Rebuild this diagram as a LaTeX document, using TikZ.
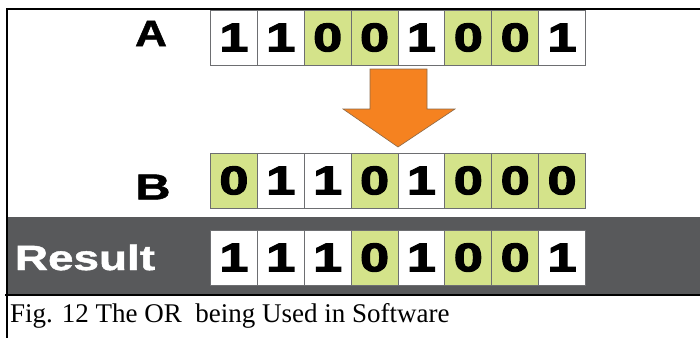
\documentclass[tikz,border=0pt]{standalone}
\usepackage{fontspec}
\usepackage{graphicx}
\setmainfont{Liberation Serif}
\newfontfamily\labelsans{Liberation Sans}[BoldFeatures={FakeBold=1.2}]
\newfontfamily\digitsans{Liberation Sans}[BoldFeatures={FakeBold=2.6}]
\definecolor{cellgreen}{HTML}{D4E38A}
\definecolor{bandgray}{HTML}{58595B}
\definecolor{arroworange}{HTML}{F58220}
\definecolor{arrowedge}{HTML}{8A6A4A}
\definecolor{celledge}{HTML}{6D6E71}
% horizontally widened heavy lettering
\newcommand\widetext[2]{\scalebox{#1}[1]{#2}}
\begin{document}
\begin{tikzpicture}[x=1pt, y=-1pt,
  bit/.style={draw=celledge, line width=1pt, minimum width=46.9pt,
    minimum height=55pt, inner sep=0pt, anchor=north west,
    font=\digitsans\bfseries\fontsize{40}{40}\selectfont},
  bit0/.style={bit, fill=cellgreen},
  bit1/.style={bit, fill=white},
  rowlabel/.style={inner sep=0pt, font=\labelsans\bfseries\fontsize{37}{37}\selectfont},
  frameline/.style={line width=2pt, black}]
\useasboundingbox (0,0) rectangle (700,338);

% frame and the dark result band
\fill[bandgray] (7,217) rectangle (700,294);
\draw[frameline] (700,9) -- (7,9) -- (7,338);
\draw[line width=2.5pt] (5,295) -- (700,295);

% operand A
\node[rowlabel] (labA) at (151,33.5) {\widetext{1.2}{A}};
\foreach \v [count=\i from 0] in {1,1,0,0,1,0,0,1}
  \node[bit\v] (a\i) at (210+46.875*\i, 9.5) {\widetext{1.3}{\v}};

% operand B
\node[rowlabel, font=\labelsans\bfseries\fontsize{36}{36}\selectfont] (labB) at (153,187) {\widetext{1.35}{B}};
\foreach \v [count=\i from 0] in {0,1,1,0,1,0,0,0}
  \node[bit\v] (b\i) at (210+46.875*\i, 152.5) {\widetext{1.3}{\v}};

% result of the OR
\node[rowlabel, text=white, font=\labelsans\bfseries\fontsize{35}{35}\selectfont] (labR) at (85,257.5) {\widetext{1.31}{Result}};
\foreach \v [count=\i from 0] in {1,1,1,0,1,0,0,1}
  \node[bit\v] (r\i) at (210+46.875*\i, 229.5) {\widetext{1.3}{\v}};

% orange down arrow between A and B
\draw[fill=arroworange, draw=arrowedge, line width=0.6pt, line join=miter]
  (370,69) -- (427,69) -- (427,109) -- (455,109) -- (398,147)
  -- (343,109) -- (370,109) -- cycle;

% caption
\node[anchor=base west, inner sep=0pt, font=\fontsize{27}{30}\selectfont] (cap) at (10,322.5)
  {Fig. 12 The OR\ \ being Used in Software};
\end{tikzpicture}
\end{document}
